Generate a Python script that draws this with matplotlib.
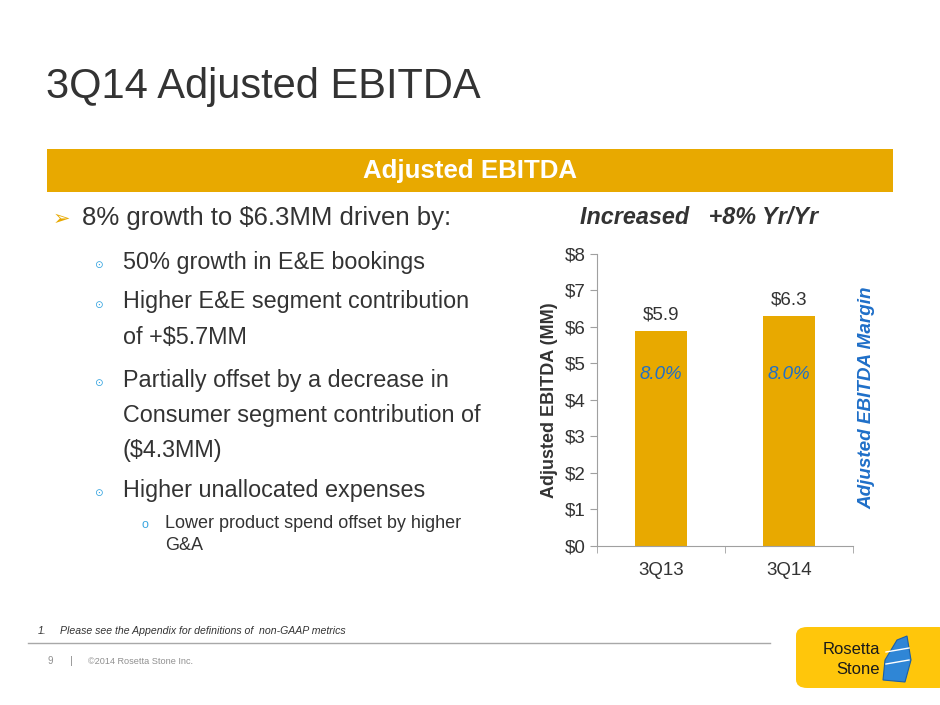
import numpy as np
import matplotlib
matplotlib.use('Agg')
import matplotlib.pyplot as plt
from matplotlib.patches import Rectangle, FancyBboxPatch, Polygon

plt.rcParams['font.family'] = ['Liberation Sans', 'DejaVu Sans']

# Datos del grafico
quarters = ['3Q13', '3Q14']
ebitda = [5.9, 6.3]
value_labels = ['$5.9', '$6.3']
margin_labels = ['8.0%', '8.0%']
y_ticks = [0, 1, 2, 3, 4, 5, 6, 7, 8]
y_tick_labels = ['$0', '$1', '$2', '$3', '$4', '$5', '$6', '$7', '$8']

W, H = 940, 705
GOLD = '#E8A900'
DARK = '#333333'
BLUE = '#1F6FC8'
LBLUE = '#3AA6E0'

fig = plt.figure(figsize=(W / 100, H / 100), dpi=100)


def fx(px):
    return px / W


def fy(py):
    return 1 - py / H


# Titulo
fig.text(fx(46), fy(87), '3Q14 Adjusted EBITDA', fontsize=30, color=DARK, va='center', ha='left')

# Banda naranja
fig.patches.append(Rectangle((fx(47), fy(192)), fx(893) - fx(47), fy(149) - fy(192),
                             transform=fig.transFigure, facecolor=GOLD, edgecolor='none'))
fig.text(fx(470), fy(171), 'Adjusted EBITDA', fontsize=18.6, color='white', weight='bold',
         ha='center', va='center')

# Bullets
fig.text(fx(53), fy(219), '\u27a2', fontsize=15, color=GOLD, ha='left', va='center',
         family=['DejaVu Sans'])
fig.text(fx(82), fy(218), '8% growth to $6.3MM driven by:', fontsize=18.5, color=DARK,
         ha='left', va='center')

sub_items = [
    (262, ['50% growth in E&E bookings']),
    (302, ['Higher E&E segment contribution', 'of +$5.7MM']),
    (380, ['Partially offset by a decrease in', 'Consumer segment contribution of', '($4.3MM)']),
    (490, ['Higher unallocated expenses']),
]
for y0, lines in sub_items:
    fig.text(fx(98), fy(y0 + 3), '\u2299', fontsize=7.5, color=LBLUE, ha='center', va='center',
             family=['DejaVu Sans'])
    for i, line in enumerate(lines):
        fig.text(fx(123), fy(y0 + i * 35.5), line, fontsize=16.8, color=DARK, ha='left',
                 va='center')

fig.text(fx(145), fy(525), 'o', fontsize=9, color=LBLUE, ha='center', va='center')
fig.text(fx(165), fy(523), 'Lower product spend offset by higher', fontsize=13, color=DARK,
         ha='left', va='center')
fig.text(fx(165), fy(545), 'G&A', fontsize=13, color=DARK, ha='left', va='center')

# Grafico de barras
ax = fig.add_axes([fx(597), fy(545.7), fx(853) - fx(597), fy(254) - fy(545.7)])
x = np.arange(len(quarters))
ax.bar(x, ebitda, width=0.41, color=GOLD)
for xi, v, lab, m in zip(x, ebitda, value_labels, margin_labels):
    ax.text(xi, v + 0.2, lab, ha='center', va='bottom', fontsize=13.5, color=DARK)
    ax.text(xi, 4.7, m, ha='center', va='center', fontsize=13.5, color=BLUE, style='italic')

ax.set_xlim(-0.5, 1.5)
ax.set_ylim(0, 8)
ax.set_yticks(y_ticks)
ax.set_yticklabels(y_tick_labels, fontsize=13.5, color=DARK)
ax.set_xticks(x)
ax.set_xticklabels(quarters, fontsize=13.5, color=DARK)
ax.set_xticks([-0.5, 0.5, 1.5], minor=True)
ax.tick_params(axis='x', which='major', length=0, pad=12)
ax.tick_params(axis='x', which='minor', length=5, color='#A0A0A0')
ax.tick_params(axis='y', length=5, color='#A0A0A0', pad=3)
for s in ['top', 'right']:
    ax.spines[s].set_visible(False)
for s in ['left', 'bottom']:
    ax.spines[s].set_color('#A0A0A0')
ax.set_ylabel('Adjusted EBITDA (MM)', fontsize=13, weight='bold', color=DARK, labelpad=5)

fig.text(fx(699), fy(218), 'Increased   +8% Yr/Yr', fontsize=16.8, weight='bold', style='italic',
         color=DARK, ha='center', va='center')
fig.text(fx(867), fy(398), 'Adjusted EBITDA Margin', fontsize=13.6, weight='bold', style='italic',
         color=BLUE, ha='center', va='center', rotation=90)

# Pie de pagina
fig.text(fx(38), fy(631), '1.', fontsize=7.6, style='italic', color=DARK, ha='left', va='center')
fig.text(fx(60), fy(631), 'Please see the Appendix for definitions of  non-GAAP metrics',
         fontsize=7.6, style='italic', color=DARK, ha='left', va='center')
fig.lines.append(plt.Line2D([fx(28), fx(770)], [fy(643), fy(643)], transform=fig.transFigure,
                            color='#A8A8A8', lw=1))
fig.text(fx(50), fy(661), '9', fontsize=7, color='#909090', ha='center', va='center')
fig.text(fx(71), fy(661), '|', fontsize=8, color='#909090', ha='center', va='center')
fig.text(fx(88), fy(661), '\u00a92014 Rosetta Stone Inc.', fontsize=6.6, color='#909090',
         ha='left', va='center')

# Logo
fig.patches.append(FancyBboxPatch((fx(796), fy(688)), fx(950) - fx(796), fy(627) - fy(688),
                                  boxstyle='round,pad=0,rounding_size=0.012',
                                  transform=fig.transFigure, facecolor='#FFC60B',
                                  edgecolor='none'))
fig.text(fx(880), fy(650), 'Rosetta', fontsize=12, color='#1A1A1A', ha='right', va='center',
         weight='medium')
fig.text(fx(880), fy(669), 'Stone', fontsize=12, color='#1A1A1A', ha='right', va='center')
stone = [(fx(883), fy(680)), (fx(885), fy(660)), (fx(897), fy(640)), (fx(907), fy(636)),
         (fx(911), fy(660)), (fx(905), fy(682))]
fig.patches.append(Polygon(stone, closed=True, transform=fig.transFigure, facecolor='#2F86D6',
                           edgecolor='#1B5FA8', lw=0.8))
for y1, y2 in [(652, 648), (664, 660)]:
    fig.lines.append(plt.Line2D([fx(886), fx(909)], [fy(y1), fy(y2)], transform=fig.transFigure,
                                color='white', lw=1))

fig.savefig('out.png', dpi=100)
